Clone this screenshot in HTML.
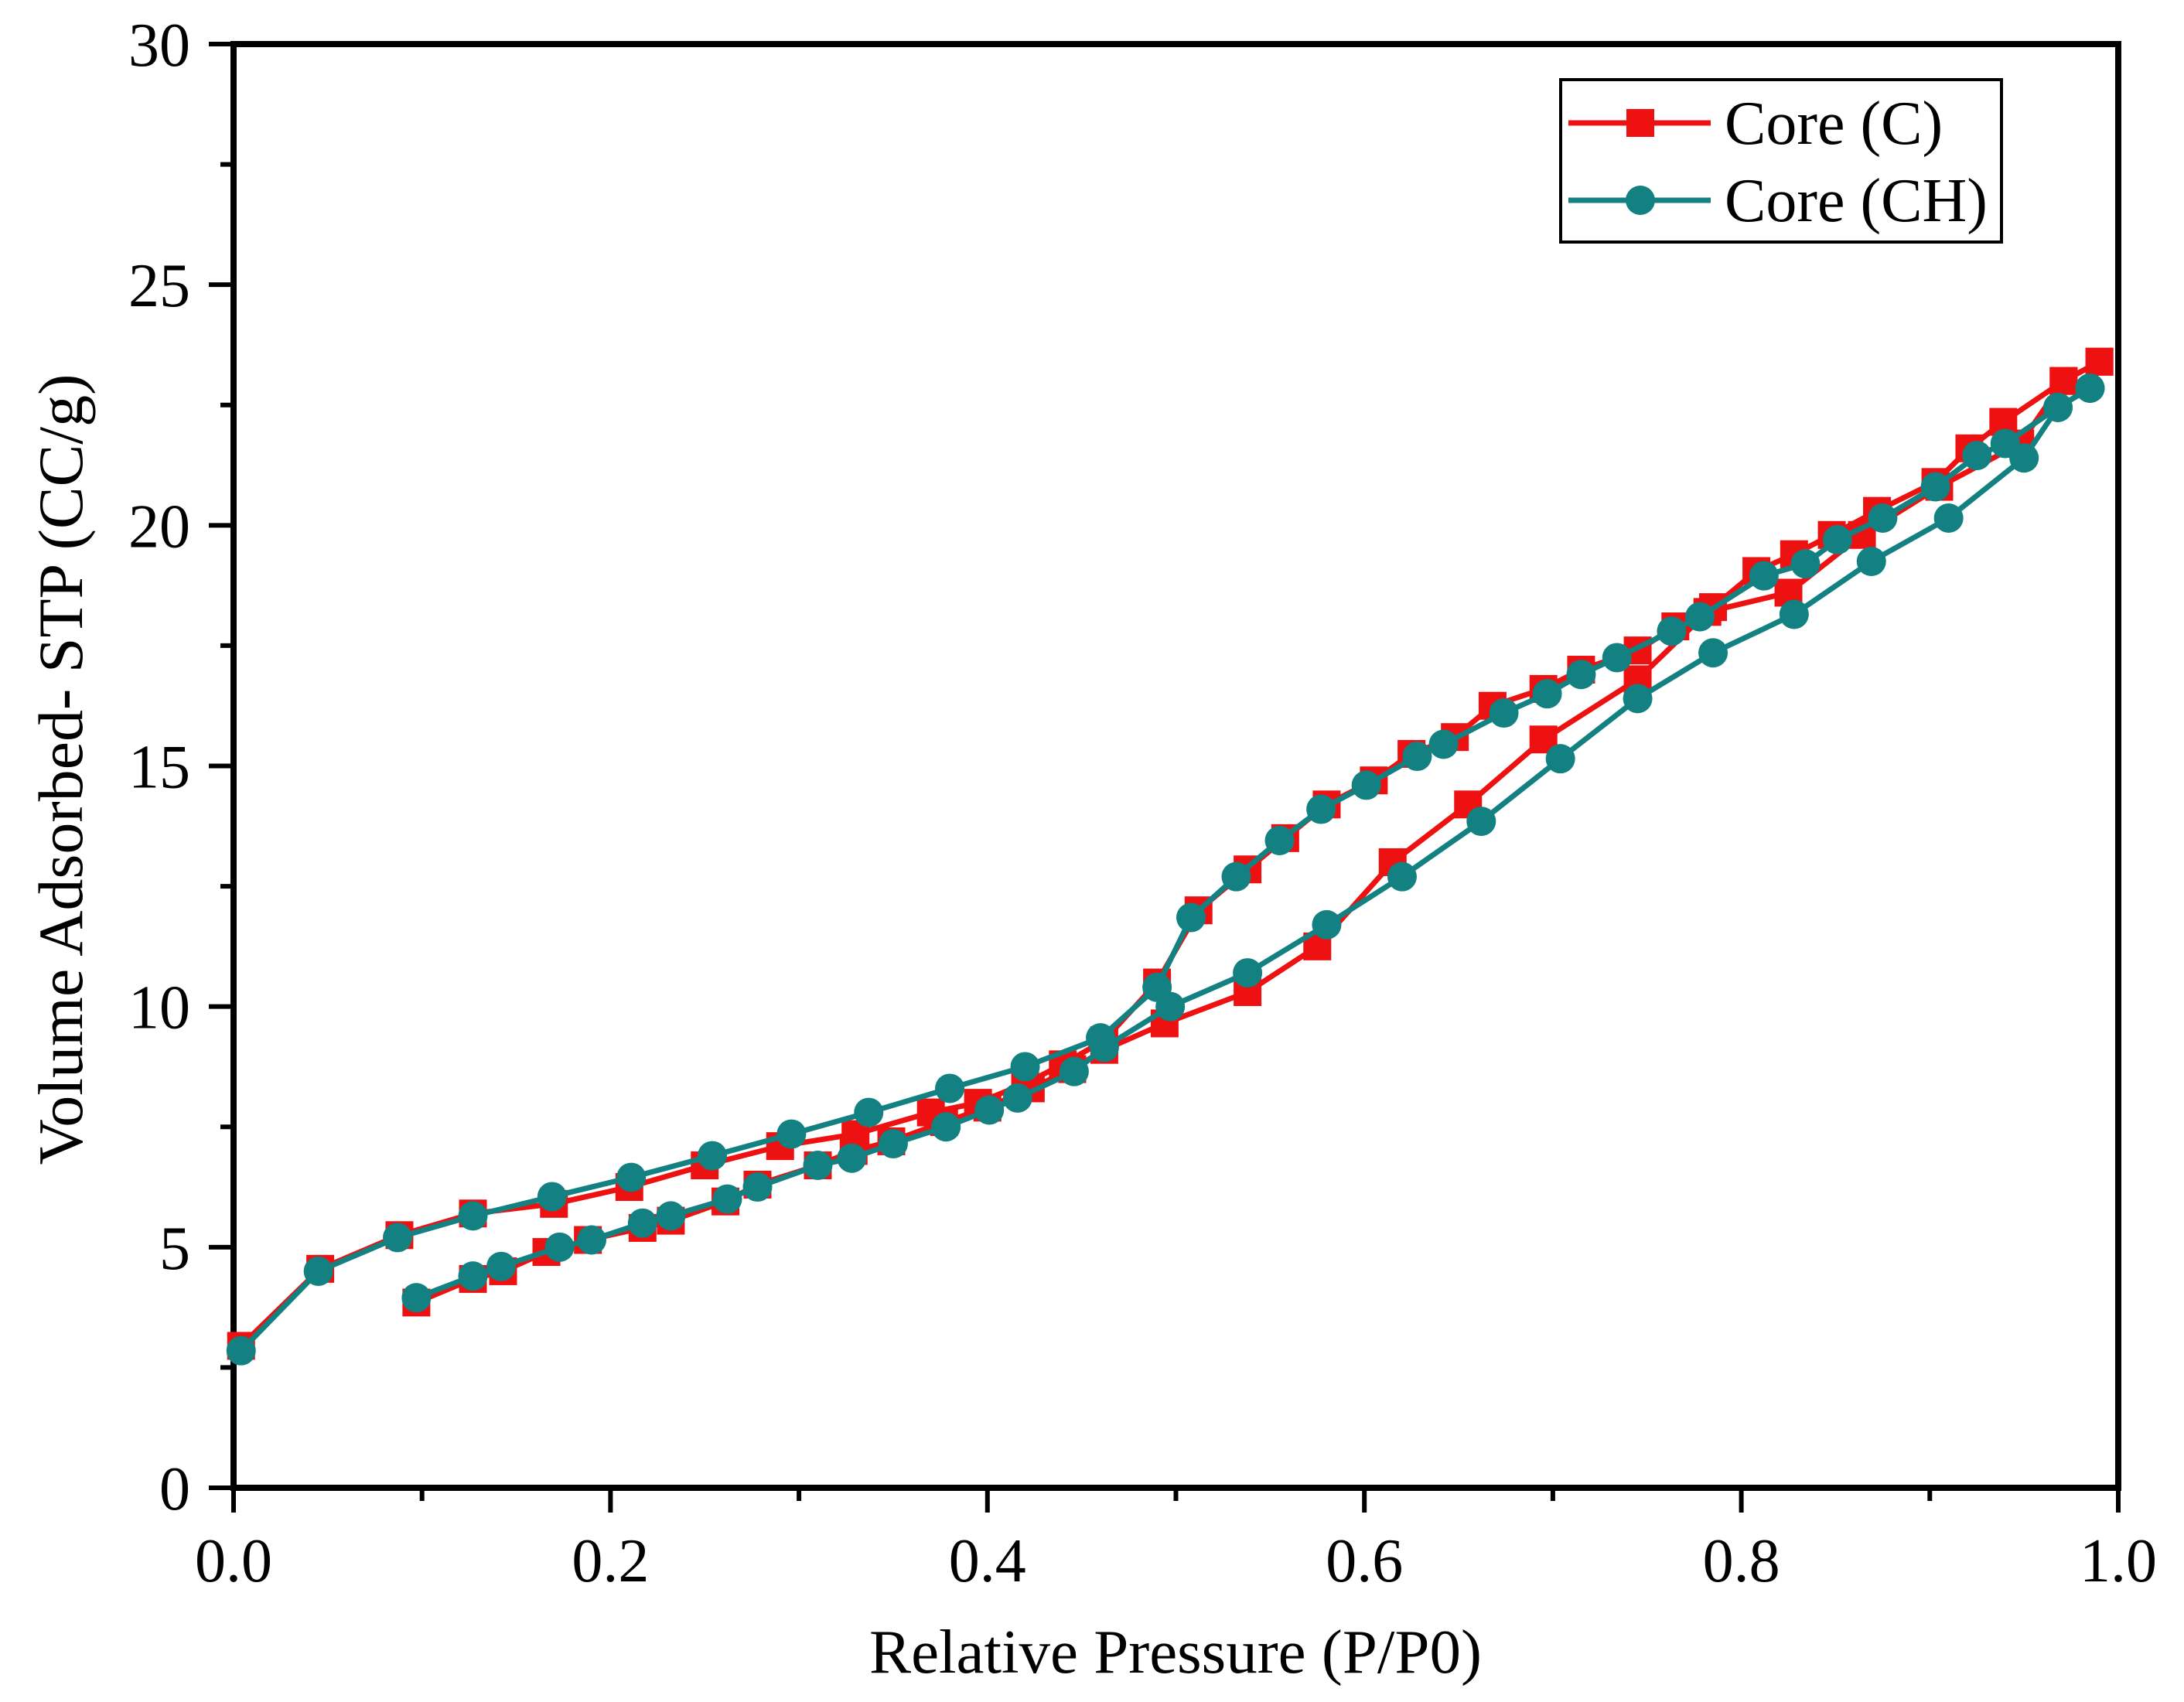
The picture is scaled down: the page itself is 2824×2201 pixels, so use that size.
<!DOCTYPE html>
<html><head><meta charset="utf-8"><style>
html,body{margin:0;padding:0;background:#fff;}
svg{display:block;font-family:"Liberation Serif",serif;}
</style></head><body>
<svg id="chart" width="2824" height="2201" viewBox="0 0 2824 2201" xmlns="http://www.w3.org/2000/svg"></svg>
<script>
const cAdsX=[0.097,0.127,0.143,0.166,0.188,0.217,0.232,0.261,0.278,0.310,0.329,0.349,0.377,0.400,0.423,0.445,0.462,0.494,0.538,0.575,0.615,0.655,0.695,0.745,0.782,0.825,0.864,0.905,0.948,0.971,0.990];
const cAdsY=[3.85,4.34,4.5,4.9,5.15,5.4,5.55,5.95,6.3,6.7,7.0,7.2,7.6,7.9,8.3,8.7,9.1,9.65,10.3,11.25,13.0,14.2,15.55,16.8,18.2,18.6,19.8,20.8,21.7,23.0,23.4];
const cDesX=[0.99,0.971,0.939,0.921,0.903,0.872,0.848,0.828,0.808,0.785,0.765,0.745,0.715,0.695,0.668,0.648,0.625,0.605,0.58,0.558,0.538,0.512,0.49,0.462,0.44,0.42,0.395,0.37,0.33,0.29,0.25,0.21,0.17,0.127,0.088,0.046,0.004];
const cDesY=[23.4,23.0,22.15,21.6,20.9,20.3,19.8,19.4,19.05,18.3,17.9,17.4,17.0,16.6,16.25,15.6,15.25,14.7,14.2,13.5,12.85,12.0,10.5,9.3,8.8,8.4,8.0,7.8,7.35,7.1,6.7,6.25,5.9,5.7,5.25,4.55,2.95];
const hAdsX=[0.097,0.127,0.142,0.173,0.19,0.217,0.232,0.262,0.278,0.310,0.328,0.35,0.378,0.401,0.416,0.446,0.462,0.497,0.538,0.58,0.62,0.662,0.704,0.745,0.785,0.828,0.869,0.91,0.95,0.968,0.985];
const hAdsY=[3.95,4.4,4.6,5.0,5.15,5.5,5.65,6.0,6.25,6.7,6.85,7.15,7.5,7.85,8.1,8.65,9.15,10.0,10.7,11.7,12.7,13.85,15.15,16.4,17.35,18.15,19.25,20.15,21.4,22.45,22.85];
const hDesX=[0.985,0.968,0.94,0.925,0.903,0.875,0.851,0.834,0.812,0.778,0.763,0.734,0.715,0.697,0.674,0.642,0.628,0.601,0.577,0.555,0.532,0.508,0.49,0.46,0.42,0.38,0.337,0.296,0.254,0.211,0.169,0.127,0.087,0.045,0.004];
const hDesY=[22.85,22.45,21.7,21.45,20.8,20.15,19.7,19.2,18.95,18.1,17.8,17.25,16.9,16.5,16.1,15.45,15.2,14.6,14.1,13.45,12.7,11.85,10.4,9.35,8.75,8.3,7.8,7.35,6.9,6.45,6.05,5.65,5.2,4.5,2.85];
const xTicks=[0,0.2,0.4,0.6,0.8,1.0];
const xTickLabels=["0.0","0.2","0.4","0.6","0.8","1.0"];
const yTicks=[0,5,10,15,20,25,30];
const yTickLabels=["0","5","10","15","20","25","30"];

const L=302,R=2739,T=57,B=1924;
const X=v=>L+(v-0)/(1-0)*(R-L);
const Y=v=>B-(v-0)/(30-0)*(B-T);
const svg=document.getElementById('chart');
const NS="http://www.w3.org/2000/svg";
function mk(tag,attrs,parent){const e=document.createElementNS(NS,tag);for(const k in attrs)e.setAttribute(k,attrs[k]);(parent||svg).appendChild(e);return e;}

for(let i=0;i<=10;i++){const v=i/10;const major=i%2===0;
 const t=mk('line',{x1:X(v),x2:X(v),y1:B,y2:B+(major?32:17),stroke:'#000','stroke-width':6});
 
 }
for(let i=0;i<=12;i++){const v=i*2.5;const major=i%2===0;
 const t=mk('line',{x1:L,x2:L-(major?32:17),y1:Y(v),y2:Y(v),stroke:'#000','stroke-width':6});
 
 }
xTicks.forEach((v,i)=>{const t=mk('text',{x:X(v),y:2045,'text-anchor':'middle','font-size':80,fill:'#000'});t.textContent=xTickLabels[i];
 
 });
yTicks.forEach((v,i)=>{const t=mk('text',{x:246,y:Y(v)+28,'text-anchor':'end','font-size':80,fill:'#000'});t.textContent=yTickLabels[i];
 
 });

const fr=mk('rect',{x:L,y:T,width:R-L,height:B-T,fill:'none',stroke:'#000','stroke-width':8});



function series(xs,ys,color,shape,name){
 const g=mk('g',{});
 
 
 mk('polyline',{points:xs.map((x,i)=>X(x)+','+Y(ys[i])).join(' '),fill:'none',stroke:color,'stroke-width':7},g);
 xs.forEach((x,i)=>{let m;
  if(shape==='sq')m=mk('rect',{x:X(x)-18,y:Y(ys[i])-18,width:36,height:36,fill:color},g);
  else m=mk('circle',{cx:X(x),cy:Y(ys[i]),r:19,fill:color},g);
  
  });
}
const red='#ee1111',teal='#138181';
series(cAdsX,cAdsY,red,'sq','core-c-adsorption');
series(cDesX,cDesY,red,'sq','core-c-desorption');
series(hAdsX,hAdsY,teal,'ci','core-ch-adsorption');
series(hDesX,hDesY,teal,'ci','core-ch-desorption');

const xt=mk('text',{x:1520,y:2163,'text-anchor':'middle','font-size':81,fill:'#000'});xt.textContent='Relative Pressure (P/P0)';


const yt=mk('text',{x:0,y:0,'text-anchor':'middle','font-size':82,fill:'#000',transform:'translate(106,995) rotate(-90)'});yt.textContent='Volume Adsorbed- STP (CC/g)';



const lg=mk('g',{});


mk('rect',{x:2018,y:103,width:570,height:210,fill:'#fff',stroke:'#000','stroke-width':4},lg);
[[159,red,'sq','Core (C)'],[259,teal,'ci','Core (CH)']].forEach(([yy,c,s,lab])=>{
 const e=mk('g',{},lg);
 
 
 mk('line',{x1:2028,x2:2212,y1:yy,y2:yy,stroke:c,'stroke-width':7},e);
 if(s==='sq')mk('rect',{x:2103,y:yy-18,width:36,height:36,fill:c},e);else mk('circle',{cx:2121,cy:yy,r:19,fill:c},e);
 const t=mk('text',{x:2230,y:yy+27,'font-size':80,fill:'#000'},e);t.textContent=lab;
});
</script>
</body></html>
